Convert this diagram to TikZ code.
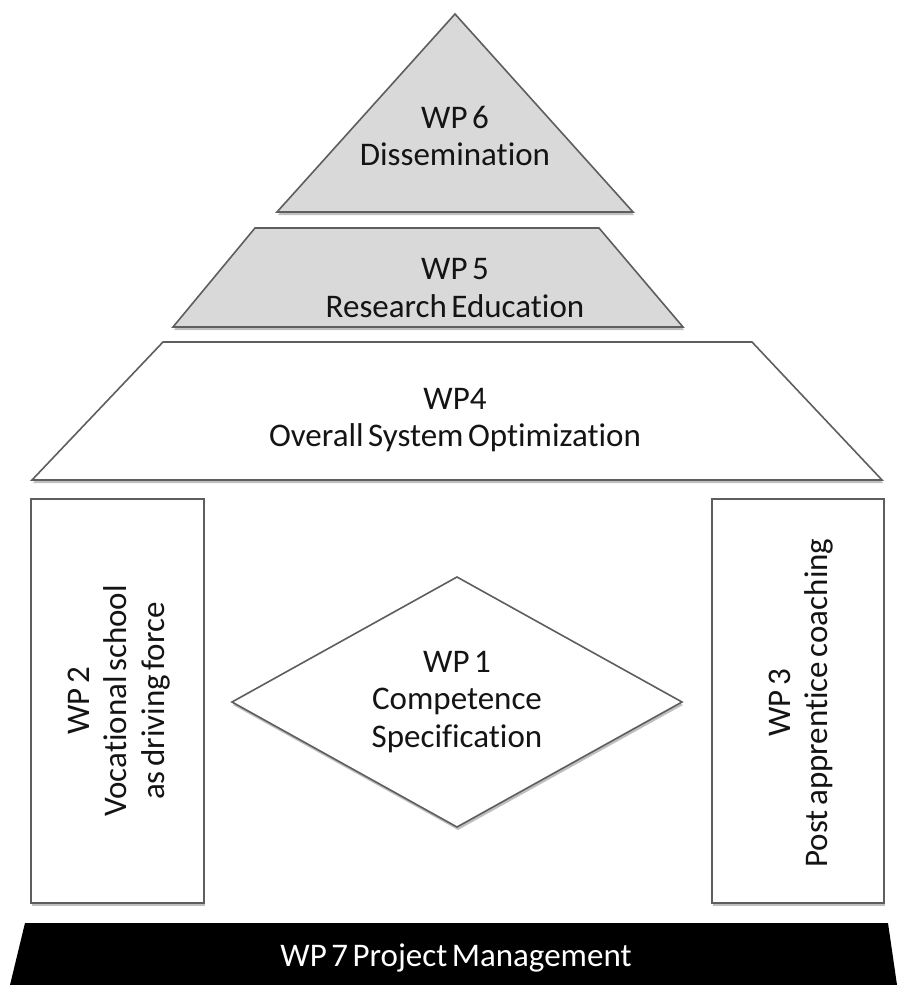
\documentclass[tikz,border=0pt]{standalone}
\usepackage{fontspec}
\setmainfont{Carlito}[WordSpace=0.6, Ligatures={NoCommon}]
\usetikzlibrary{shadows}
\definecolor{edgegray}{HTML}{5E5E5E}
\definecolor{layergray}{HTML}{D9D9D9}
\definecolor{inkdark}{HTML}{141414}
\begin{document}
\begin{tikzpicture}[x=1pt,y=-1pt,
  wpshape/.style={draw=edgegray, line width=1.6pt, line join=miter,
    drop shadow={shadow xshift=1pt, shadow yshift=-3pt, opacity=0.25, fill=black}},
  wptext/.style={text=inkdark, align=center, inner sep=0pt,
    font=\fontsize{33}{37.5}\selectfont},
  wpvtext/.style={wptext, rotate=90}]
\useasboundingbox (0,0) rectangle (898,985);
\fill[white] (0,0) rectangle (898,985);

% corner points of the layers
\coordinate (t6) at (455,14);
\coordinate (bl6) at (277,212);
\coordinate (br6) at (633,212);
\coordinate (tl5) at (255,228);
\coordinate (tr5) at (599,228);
\coordinate (bl5) at (173,327);
\coordinate (br5) at (683,327);
\coordinate (tl4) at (163,342);
\coordinate (tr4) at (752,342);
\coordinate (bl4) at (32,480);
\coordinate (br4) at (882,480);
\coordinate (dT) at (457,577);
\coordinate (dR) at (682,702);
\coordinate (dB) at (457,827);
\coordinate (dL) at (232,702);
\coordinate (tl7) at (25,923);
\coordinate (tr7) at (888,923);
\coordinate (br7) at (897,985);
\coordinate (bl7) at (10,985);

% WP 6 apex triangle
\draw[wpshape, fill=layergray] (t6) -- (br6) -- (bl6) -- cycle;
% WP 5 layer
\draw[wpshape, fill=layergray] (tl5) -- (tr5) -- (br5) -- (bl5) -- cycle;
% WP 4 layer
\draw[wpshape, fill=white] (tl4) -- (tr4) -- (br4) -- (bl4) -- cycle;
% pillars
\draw[wpshape, fill=white] (31,499) rectangle (204,903);
\draw[wpshape, fill=white] (712,499) rectangle (884,903);
% WP 1 diamond
\draw[wpshape, fill=white] (dT) -- (dR) -- (dB) -- (dL) -- cycle;
% WP 7 foundation
\fill[black] (tl7) -- (tr7) -- (br7) -- (bl7) -- cycle;

% labels
\node[wptext] (wp6) at (455,136) {WP 6\\Dissemination};
\node[wptext] (wp5) at (455,288) {WP 5\\Research Education};
\node[wptext] (wp4) at (455,420) {WP4\\Overall System Optimization};
\node[wptext] (wp1) at (457,702) {WP 1\\Competence\\Specification};
\node[wpvtext] (wp2) at (119,701) {WP 2\\Vocational school\\as driving force};
\node[wpvtext] (wp3) at (801,703) {WP 3\\Post apprentice coaching};
\node[wptext, text=white] (wp7) at (456,958) {WP 7 Project Management};
\end{tikzpicture}
\end{document}
